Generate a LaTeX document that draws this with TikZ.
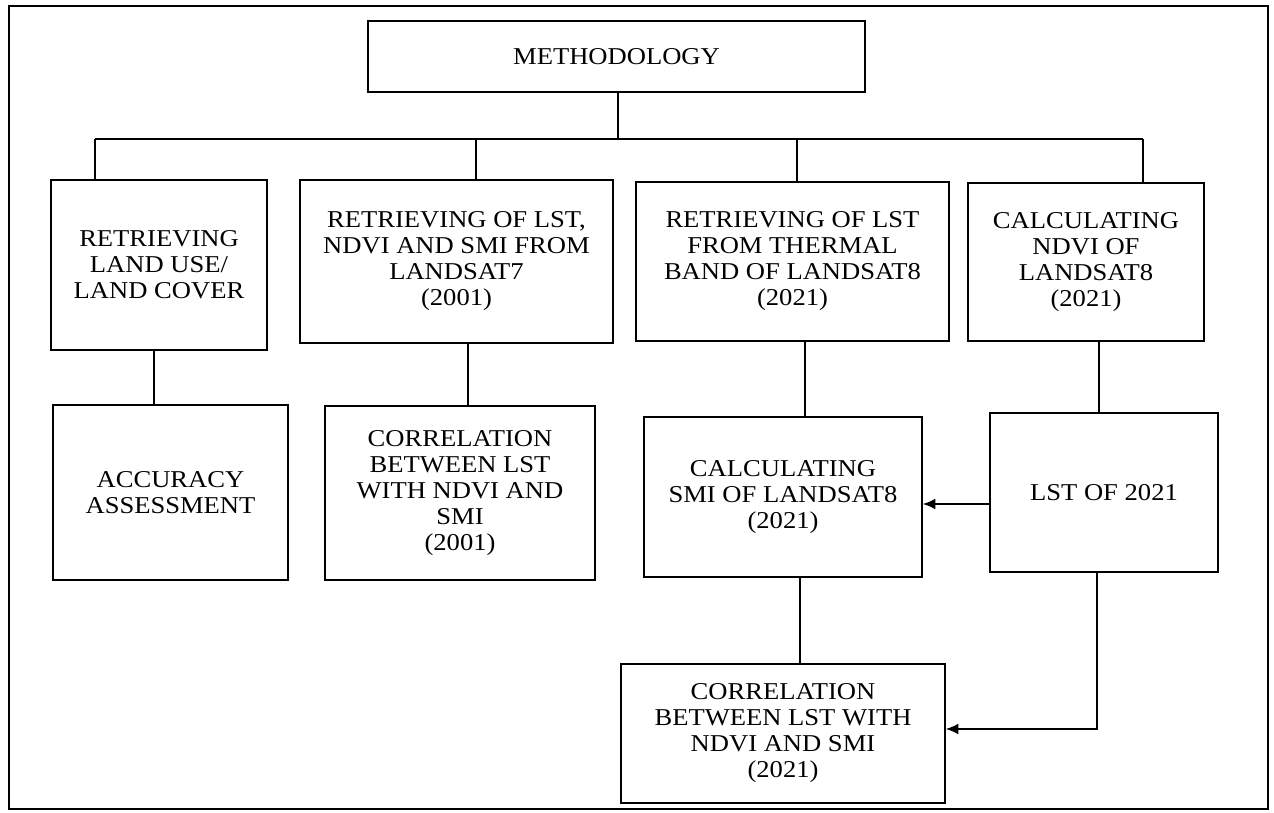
\documentclass[tikz,border=0pt]{standalone}
\usepackage{fontspec}
\setmainfont[FakeStretch=1.1]{Liberation Serif}
\usetikzlibrary{arrows.meta}

\begin{document}
\begin{tikzpicture}[x=0.6pt, y=-0.6pt,
    box/.style={draw, line width=1pt, align=center, inner sep=0pt,
        font=\fontsize{14.5}{15.6}\selectfont},
    link/.style={line width=0.9pt},
    tip/.style={-{Latex[length=7.5pt,width=6.5pt]}}]
    \useasboundingbox (0,0) rectangle (1274,813);
    \draw[line width=1pt] (9,6) rectangle (1268,809);

    \node[box, minimum width=298.2pt, minimum height=42.6pt] (m) at (616.5,56.5) {METHODOLOGY};

    \node[box, minimum width=129.6pt, minimum height=102pt] (a) at (159,265) {RETRIEVING\\LAND USE/\\LAND COVER};
    \node[box, minimum width=187.8pt, minimum height=97.8pt] (b) at (456.5,261.5) {RETRIEVING OF LST,\\NDVI AND SMI FROM\\LANDSAT7\\(2001)};
    \node[box, minimum width=187.8pt, minimum height=95.4pt] (c) at (792.5,261.5) {RETRIEVING OF LST\\FROM THERMAL\\BAND OF LANDSAT8\\(2021)};
    \node[box, minimum width=141.6pt, minimum height=94.8pt] (d) at (1086,262) {CALCULATING\\NDVI OF\\LANDSAT8\\(2021)};

    \node[box, minimum width=141pt, minimum height=105pt] (e) at (170.5,492.5) {ACCURACY\\ASSESSMENT};
    \node[box, minimum width=162pt, minimum height=104.4pt] (f) at (460,493) {CORRELATION\\BETWEEN LST\\WITH NDVI AND\\SMI\\(2001)};
    \node[box, minimum width=166.8pt, minimum height=96pt] (g) at (783,497) {CALCULATING\\SMI OF LANDSAT8\\(2021)};
    \node[box, minimum width=136.8pt, minimum height=95.4pt] (h) at (1104,492.5) {LST OF 2021};

    \node[box, minimum width=194.4pt, minimum height=83.4pt] (k) at (783,733.5) {CORRELATION\\BETWEEN LST WITH\\NDVI AND SMI\\(2021)};

    % tree under the title
    \coordinate (ja) at (95,139);
    \coordinate (jb) at (476,139);
    \coordinate (jc) at (797,139);
    \coordinate (jd) at (1143,139);

    \draw[link, line width=1.5pt] ([xshift=0.9pt]m.south) -- ([xshift=0.9pt]m.south |- ja);
    \draw[link] (ja) -- (jd);
    \draw[link] (ja) -- (ja |- a.north);
    \draw[link] (jb) -- (jb |- b.north);
    \draw[link] (jc) -- (jc |- c.north);
    \draw[link] (jd) -- (jd |- d.north);

    % second row
    \draw[link] ([xshift=-3pt]a.south) -- ([xshift=-3pt]a.south |- e.north);
    \draw[link] ([xshift=6.9pt]b.south) -- ([xshift=6.9pt]b.south |- f.north);
    \draw[link] ([xshift=7.5pt]c.south) -- ([xshift=7.5pt]c.south |- g.north);
    \draw[link] ([xshift=7.8pt]d.south) -- ([xshift=7.8pt]d.south |- h.north);

    % last row
    \draw[link] ([xshift=10.2pt]g.south) -- ([xshift=10.2pt]g.south |- k.north);
    \draw[link, tip] ([yshift=-6.9pt]h.west) -- ([yshift=-6.9pt]h.west -| g.east);
    \draw[link, tip] ([xshift=-4.2pt]h.south) |- ([yshift=2.7pt]k.east);
\end{tikzpicture}
\end{document}
